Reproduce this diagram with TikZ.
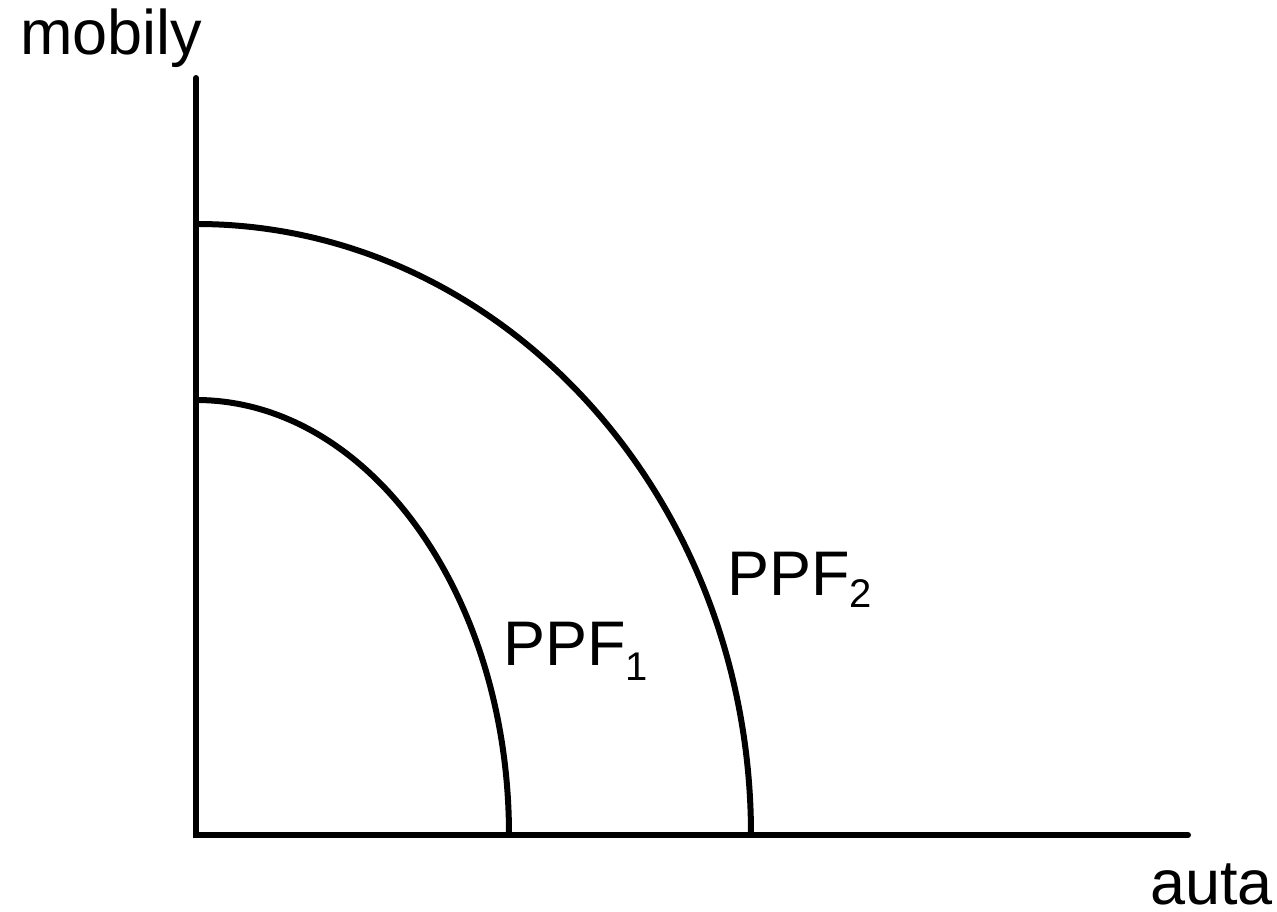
\documentclass[tikz,border=0pt]{standalone}
\usepackage{fontspec}
\setmainfont{Liberation Sans}
\begin{document}
\begin{tikzpicture}[x=1pt,y=1pt,
  axis/.style={line width=6pt,line cap=round},
  ppf/.style={line width=6pt},
  lbl/.style={inner sep=0pt,font=\fontsize{63}{70}\selectfont}]
\useasboundingbox (0,0) rectangle (1277,912);
\coordinate (O) at (196,77);
\coordinate (ytop) at (196,834);
\coordinate (xend) at (1188,77);
\draw[axis] (ytop) -- (O) -- (xend);
\coordinate (p2) at (196,688);
\coordinate (p1) at (196,512);
\draw[ppf] (p2) arc[start angle=90,end angle=0,x radius=555,y radius=611];
\draw[ppf] (p1) arc[start angle=90,end angle=0,x radius=313,y radius=435];
\node[lbl,anchor=base west] (ylab) at (20,857) {mobily};
\node[lbl,anchor=base east] (xlab) at (1273,7) {auta};
\node[lbl,anchor=base west] (l1) at (503,246) {PPF\raisebox{-15pt}{\fontsize{40}{40}\selectfont 1}};
\node[lbl,anchor=base west] (l2) at (727,316) {PPF\raisebox{-12pt}{\fontsize{40}{40}\selectfont 2}};
\end{tikzpicture}
\end{document}
